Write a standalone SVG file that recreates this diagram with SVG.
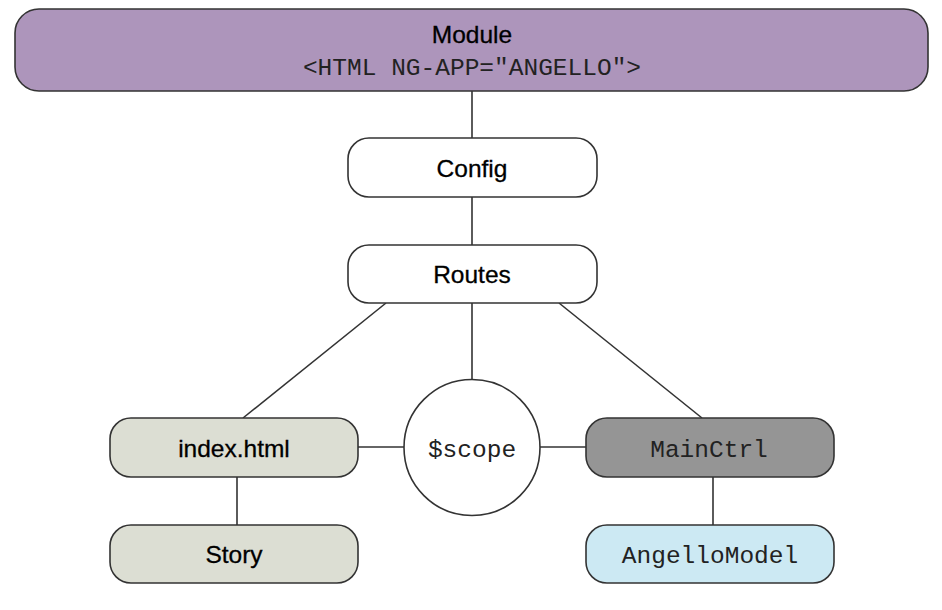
<svg xmlns="http://www.w3.org/2000/svg" width="942" height="610" viewBox="0 0 942 610">
<style>
.box{stroke:#333;stroke-width:1.6}
.sans{font-family:"Liberation Sans",Arial,sans-serif;font-size:24.5px;fill:#000;text-anchor:middle;stroke:#000;stroke-width:0.3}
.mono{font-family:"Liberation Mono","Courier New",monospace;font-size:24.5px;fill:#222;text-anchor:middle}
.conn line{stroke:#333;stroke-width:1.6}
</style>
<rect width="942" height="610" fill="#fff"/>
<g class="conn">
<line x1="472" y1="91" x2="472" y2="138"/>
<line x1="472" y1="197" x2="472" y2="245"/>
<line x1="472" y1="303" x2="472" y2="380"/>
<line x1="386" y1="303" x2="243" y2="418"/>
<line x1="559" y1="303" x2="702" y2="418"/>
<line x1="358" y1="447" x2="404" y2="447"/>
<line x1="540" y1="447" x2="586" y2="447"/>
<line x1="237" y1="477" x2="237" y2="525"/>
<line x1="713" y1="477" x2="713" y2="525"/>
</g>
<g id="module">
<rect class="box" x="15" y="9" width="913" height="82" rx="24" fill="#ad95bb"/>
<text class="sans" x="472" y="43" font-size="27.5">Module</text>
<text class="mono" x="472" y="75">&lt;HTML NG-APP="ANGELLO"&gt;</text>
</g>
<g id="config">
<rect class="box" x="348" y="138" width="249" height="59" rx="21" fill="#fff"/>
<text class="sans" x="472" y="177">Config</text>
</g>
<g id="routes">
<rect class="box" x="348" y="245" width="249" height="58" rx="21" fill="#fff"/>
<text class="sans" x="472" y="283">Routes</text>
</g>
<g id="index">
<rect class="box" x="110" y="418" width="248" height="59" rx="21" fill="#dcded3"/>
<text class="sans" x="234" y="457">index.html</text>
</g>
<g id="scope">
<circle class="box" cx="472" cy="447.5" r="68" fill="#fff"/>
<text class="mono" x="472" y="457">$scope</text>
</g>
<g id="mainctrl">
<rect class="box" x="586" y="418" width="248" height="59" rx="21" fill="#959595"/>
<text class="mono" x="709" y="457">MainCtrl</text>
</g>
<g id="story">
<rect class="box" x="110" y="525" width="248" height="58" rx="21" fill="#dcded3"/>
<text class="sans" x="234" y="563">Story</text>
</g>
<g id="angellomodel">
<rect class="box" x="586" y="525" width="248" height="58" rx="21" fill="#cce9f3"/>
<text class="mono" x="710" y="563">AngelloModel</text>
</g>
</svg>
